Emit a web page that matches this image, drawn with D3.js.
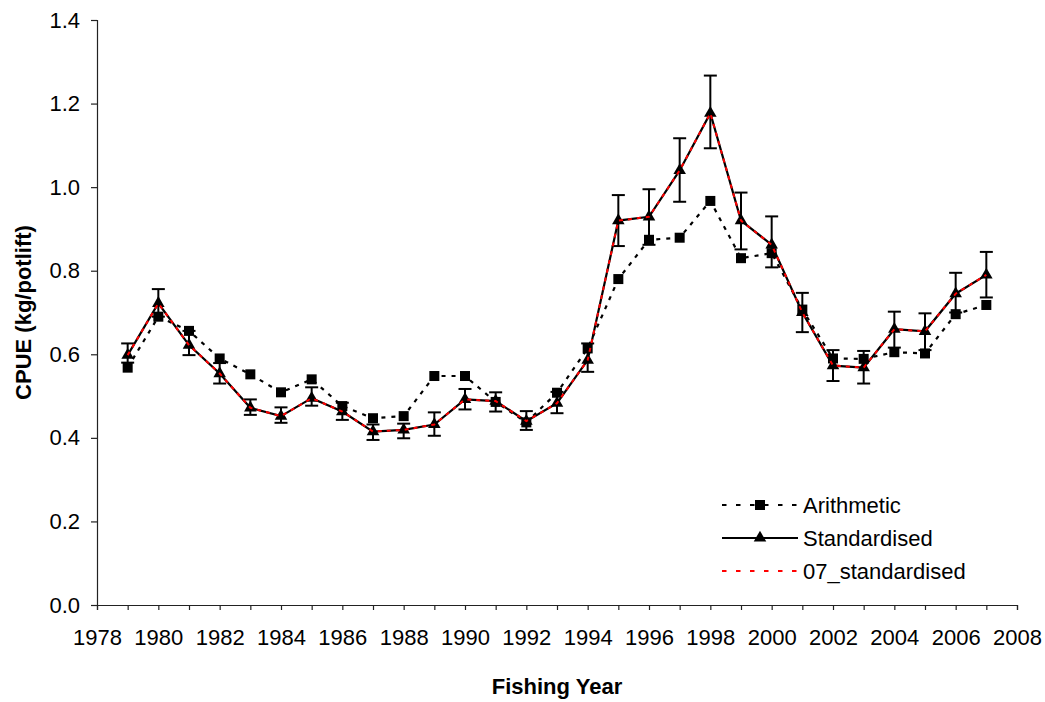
<!DOCTYPE html>
<html>
<head>
<meta charset="utf-8">
<script src="https://cdn.jsdelivr.net/npm/d3@7"></script>
<style>
  html, body { margin: 0; padding: 0; background: #fff; }
  svg { display: block; font-family: "Liberation Sans", Arial, sans-serif; }
</style>
</head>
<body>
<svg id="chart" width="1045" height="702"></svg>
<script>
// Fishing years
const years = [1979, 1980, 1981, 1982, 1983, 1984, 1985, 1986, 1987, 1988,
  1989, 1990, 1991, 1992, 1993, 1994, 1995, 1996, 1997, 1998,
  1999, 2000, 2001, 2002, 2003, 2004, 2005, 2006, 2007];

// Arithmetic CPUE (kg/potlift)
const arithmetic = [0.568, 0.690, 0.656, 0.590, 0.552, 0.509, 0.540, 0.476, 0.447, 0.452,
  0.548, 0.548, 0.486, 0.437, 0.508, 0.614, 0.780, 0.874, 0.879, 0.967,
  0.830, 0.842, 0.707, 0.590, 0.589, 0.605, 0.602, 0.696, 0.718];

// Standardised CPUE index
const standardised = [0.598, 0.722, 0.622, 0.554, 0.472, 0.452, 0.495, 0.463, 0.415, 0.419,
  0.432, 0.492, 0.488, 0.440, 0.483, 0.586, 0.920, 0.929, 1.040, 1.177,
  0.920, 0.862, 0.700, 0.573, 0.568, 0.660, 0.655, 0.745, 0.790];

// Confidence bounds of the standardised index
const upperCI = [0.626, 0.756, 0.656, 0.579, 0.492, 0.473, 0.521, 0.484, 0.432, 0.434,
  0.461, 0.517, 0.509, 0.464, 0.510, 0.626, 0.981, 0.995, 1.117, 1.267,
  0.987, 0.930, 0.747, 0.610, 0.608, 0.702, 0.698, 0.795, 0.845];
const lowerCI = [0.580, 0.690, 0.598, 0.530, 0.455, 0.436, 0.477, 0.443, 0.395, 0.399,
  0.405, 0.468, 0.463, 0.419, 0.459, 0.558, 0.859, 0.862, 0.965, 1.093,
  0.851, 0.808, 0.653, 0.536, 0.530, 0.616, 0.610, 0.700, 0.736];

// 2007 standardised index
const standardised07 = [0.598, 0.722, 0.622, 0.554, 0.472, 0.452, 0.495, 0.463, 0.415, 0.419,
  0.432, 0.492, 0.488, 0.440, 0.483, 0.586, 0.920, 0.929, 1.040, 1.177,
  0.920, 0.862, 0.700, 0.573, 0.568, 0.660, 0.655, 0.745, 0.790];

// Axis ticks
const yTicks = [0.0, 0.2, 0.4, 0.6, 0.8, 1.0, 1.2, 1.4];
const xTickYears = d3.range(1978, 2009);
const xLabelYears = [1978, 1980, 1982, 1984, 1986, 1988, 1990, 1992, 1994,
  1996, 1998, 2000, 2002, 2004, 2006, 2008];

const legendLabels = ["Arithmetic", "Standardised", "07_standardised"];

const svg = d3.select("#chart");
const plotLeft = 97, plotRight = 1017, plotTop = 20, plotBottom = 605;

const x = d3.scaleLinear().domain([1978, 2008]).range([plotLeft, plotRight]);
const y = d3.scaleLinear().domain([0, 1.4]).range([plotBottom, plotTop]);

const FONT = 22;

// Axes
const xAxis = d3.axisBottom(x)
  .tickValues(xTickYears)
  .tickSize(5)
  .tickPadding(19)
  .tickFormat(d => xLabelYears.includes(d) ? String(d) : "");
const gx = svg.append("g").attr("transform", `translate(0,${plotBottom})`).call(xAxis);

const yAxis = d3.axisLeft(y)
  .tickValues(yTicks)
  .tickSize(6)
  .tickPadding(11)
  .tickFormat(d3.format(".1f"));
const gy = svg.append("g").attr("transform", `translate(${plotLeft},0)`).call(yAxis);

[gx, gy].forEach(g => {
  g.select(".domain").attr("stroke", "#222").attr("stroke-width", 1.2);
  g.selectAll(".tick line").attr("stroke", "#222").attr("stroke-width", 1.2);
  g.selectAll(".tick text").attr("fill", "#000")
    .style("font-size", FONT + "px")
    .style("font-family", "'Liberation Sans', Arial, sans-serif");
});

// Axis titles
svg.append("text")
  .attr("x", (plotLeft + plotRight) / 2).attr("y", 694)
  .attr("text-anchor", "middle")
  .style("font-size", FONT + "px").style("font-weight", "bold")
  .text("Fishing Year");

svg.append("text")
  .attr("transform", `translate(31,${(plotTop + plotBottom) / 2}) rotate(-90)`)
  .attr("text-anchor", "middle")
  .style("font-size", FONT + "px").style("font-weight", "bold")
  .text("CPUE (kg/potlift)");

const line = d3.line().x(d => x(d[0])).y(d => y(d[1]));
const triangle = d3.symbol().type(d3.symbolTriangle).size(68);

// Arithmetic series: dotted line with square markers
const arithPts = years.map((yr, i) => [yr, arithmetic[i]]);
svg.append("path").datum(arithPts)
  .attr("d", line).attr("fill", "none")
  .attr("stroke", "#000").attr("stroke-width", 2.2)
  .attr("stroke-dasharray", "4,6");
const SQ = 10;
svg.append("g").selectAll("rect").data(arithPts).join("rect")
  .attr("x", d => x(d[0]) - SQ / 2).attr("y", d => y(d[1]) - SQ / 2)
  .attr("width", SQ).attr("height", SQ).attr("fill", "#000");

// Error bars of the standardised index
const CAP = 13;
const eb = svg.append("g").attr("stroke", "#000").attr("stroke-width", 2);
years.forEach((yr, i) => {
  const cx = x(yr);
  eb.append("line").attr("x1", cx).attr("x2", cx)
    .attr("y1", y(upperCI[i])).attr("y2", y(lowerCI[i]));
  eb.append("line").attr("x1", cx - CAP / 2).attr("x2", cx + CAP / 2)
    .attr("y1", y(upperCI[i])).attr("y2", y(upperCI[i]));
  eb.append("line").attr("x1", cx - CAP / 2).attr("x2", cx + CAP / 2)
    .attr("y1", y(lowerCI[i])).attr("y2", y(lowerCI[i]));
});

// Standardised series: solid line with triangle markers
const stdPts = years.map((yr, i) => [yr, standardised[i]]);
svg.append("path").datum(stdPts)
  .attr("d", line).attr("fill", "none")
  .attr("stroke", "#000").attr("stroke-width", 2.2);
svg.append("g").selectAll("path").data(stdPts).join("path")
  .attr("d", triangle)
  .attr("transform", d => `translate(${x(d[0])},${y(d[1])})`)
  .attr("fill", "#000");

// 2007 standardised series: red dashed line
const std07Pts = years.map((yr, i) => [yr, standardised07[i]]);
svg.append("path").datum(std07Pts)
  .attr("d", line).attr("fill", "none")
  .attr("stroke", "#ff0000").attr("stroke-width", 2)
  .attr("stroke-dasharray", "4,5");

// Legend
const lg = svg.append("g");
const rows = [505, 538, 571];
const lx1 = 722, lx2 = 798, lmid = 760, ltext = 803;
// Arithmetic
lg.append("line").attr("x1", lx1).attr("x2", lx2).attr("y1", rows[0]).attr("y2", rows[0])
  .attr("stroke", "#000").attr("stroke-width", 2.2).attr("stroke-dasharray", "4.5,9.5");
lg.append("rect").attr("x", lmid - SQ / 2).attr("y", rows[0] - SQ / 2)
  .attr("width", SQ).attr("height", SQ).attr("fill", "#000");
// Standardised
lg.append("line").attr("x1", lx1).attr("x2", lx2).attr("y1", rows[1]).attr("y2", rows[1])
  .attr("stroke", "#000").attr("stroke-width", 2.2);
lg.append("path").attr("d", triangle)
  .attr("transform", `translate(${lmid},${rows[1]})`).attr("fill", "#000");
// 07_standardised
lg.append("line").attr("x1", lx1).attr("x2", lx2).attr("y1", rows[2]).attr("y2", rows[2])
  .attr("stroke", "#ff0000").attr("stroke-width", 2.2).attr("stroke-dasharray", "4.5,9.5");

legendLabels.forEach((t, i) => {
  lg.append("text").attr("x", ltext).attr("y", rows[i])
    .attr("dy", "0.35em")
    .style("font-size", FONT + "px").attr("fill", "#000")
    .text(t);
});
</script>
</body>
</html>
